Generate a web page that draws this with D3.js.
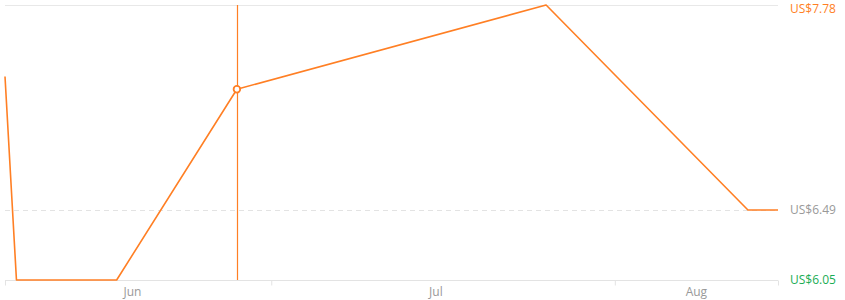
<!DOCTYPE html>
<html>
<head>
<meta charset="utf-8">
<script src="https://cdn.jsdelivr.net/npm/d3@7"></script>
<style>
  body { margin: 0; background: #fff; }
  svg { display: block; font-family: "Open Sans", "Noto Sans", sans-serif; }
</style>
</head>
<body>
<svg id="chart"></svg>
<script>
// price history
const dates = ['2024-05-20T00:00Z', '2024-05-21T08:00Z', '2024-06-02T00:00Z', '2024-06-16T00:00Z',
    '2024-07-22T00:00Z', '2024-08-14T12:00Z', '2024-08-18T00:00Z'];
const prices = [7.33, 6.05, 6.05, 7.25, 7.78, 6.49, 6.49];

// axis boundaries (tick marks) and month labels
const tickDates = ['2024-05-20T00:00Z', '2024-06-20T00:00Z', '2024-07-30T00:00Z', '2024-08-18T00:00Z'];
const monthLabels = ['Jun', 'Jul', 'Aug'];
const labelDates = ['2024-06-03T20:00Z', '2024-07-09T04:00Z', '2024-08-08T12:00Z'];

// price labels on the right
const maxPrice = 7.78;
const currentPrice = 6.49;
const minPrice = 6.05;

const hoverIndex = 3;

const width = 845;
const height = 300;
const orange = '#ff7f24';

const parse = d3.isoParse;
const data = dates.map((d, i) => ({ date: parse(d), price: prices[i] }));

const svg = d3.select('#chart').attr('width', width).attr('height', height);

const x = d3.scaleUtc()
    .domain([parse(dates[0]), parse(dates[dates.length - 1])])
    .range([5, 778]);

const y = d3.scaleLinear()
    .domain([minPrice, maxPrice])
    .range([280, 5]);

// top grid line
svg.append('line')
    .attr('x1', x.range()[0]).attr('x2', x.range()[1])
    .attr('y1', y(maxPrice) + 0.5).attr('y2', y(maxPrice) + 0.5)
    .attr('stroke', '#e8e8e8');

// dashed line at current price
svg.append('line')
    .attr('x1', x.range()[0]).attr('x2', x.range()[1])
    .attr('y1', Math.round(y(currentPrice)) + 0.5).attr('y2', Math.round(y(currentPrice)) + 0.5)
    .attr('stroke', '#e3e3e3')
    .attr('stroke-dasharray', '5,4');

// x axis
const xAxis = svg.append('g')
    .attr('transform', `translate(0,${y(minPrice) + 0.5})`)
    .call(d3.axisBottom(x)
        .tickValues(tickDates.map(parse))
        .tickSize(5)
        .tickFormat(''));
xAxis.select('.domain').attr('stroke', '#e3e3e3').attr('d', `M${x.range()[0]},0H${x.range()[1]}`);
xAxis.selectAll('.tick line').attr('stroke', '#e3e3e3');

svg.selectAll('.month')
    .data(monthLabels)
    .enter()
    .append('text')
    .attr('class', 'month')
    .attr('x', (d, i) => x(parse(labelDates[i])))
    .attr('y', 296)
    .attr('text-anchor', 'middle')
    .attr('font-size', 12)
    .attr('fill', '#999')
    .text((d) => d);

// hover crosshair
const hp = data[hoverIndex];
svg.append('line')
    .attr('x1', Math.round(x(hp.date)) + 0.5).attr('x2', Math.round(x(hp.date)) + 0.5)
    .attr('y1', y(maxPrice)).attr('y2', y(minPrice))
    .attr('stroke', orange)
    .attr('stroke-width', 1.2);

// price line
const line = d3.line()
    .x((d) => x(d.date))
    .y((d) => y(d.price));

svg.append('path')
    .datum(data)
    .attr('d', line)
    .attr('fill', 'none')
    .attr('stroke', orange)
    .attr('stroke-width', 1.6)
    .attr('stroke-linejoin', 'round');

svg.append('circle')
    .attr('cx', x(hp.date))
    .attr('cy', y(hp.price))
    .attr('r', 3.3)
    .attr('fill', '#fff')
    .attr('stroke', orange)
    .attr('stroke-width', 1.8);

// right side price labels
const labels = [
    { v: maxPrice, color: '#ff7f24' },
    { v: currentPrice, color: '#999' },
    { v: minPrice, color: '#1aad55' }
];
svg.selectAll('.plabel')
    .data(labels)
    .enter()
    .append('text')
    .attr('class', 'plabel')
    .attr('x', 790)
    .attr('y', (d, i) => i === 0 ? 12.5 : y(d.v))
    .attr('dy', (d, i) => i === 0 ? 0 : '0.35em')
    .attr('font-size', 12)
    .attr('fill', (d) => d.color)
    .text((d) => 'US$' + d.v.toFixed(2));
</script>
</body>
</html>
